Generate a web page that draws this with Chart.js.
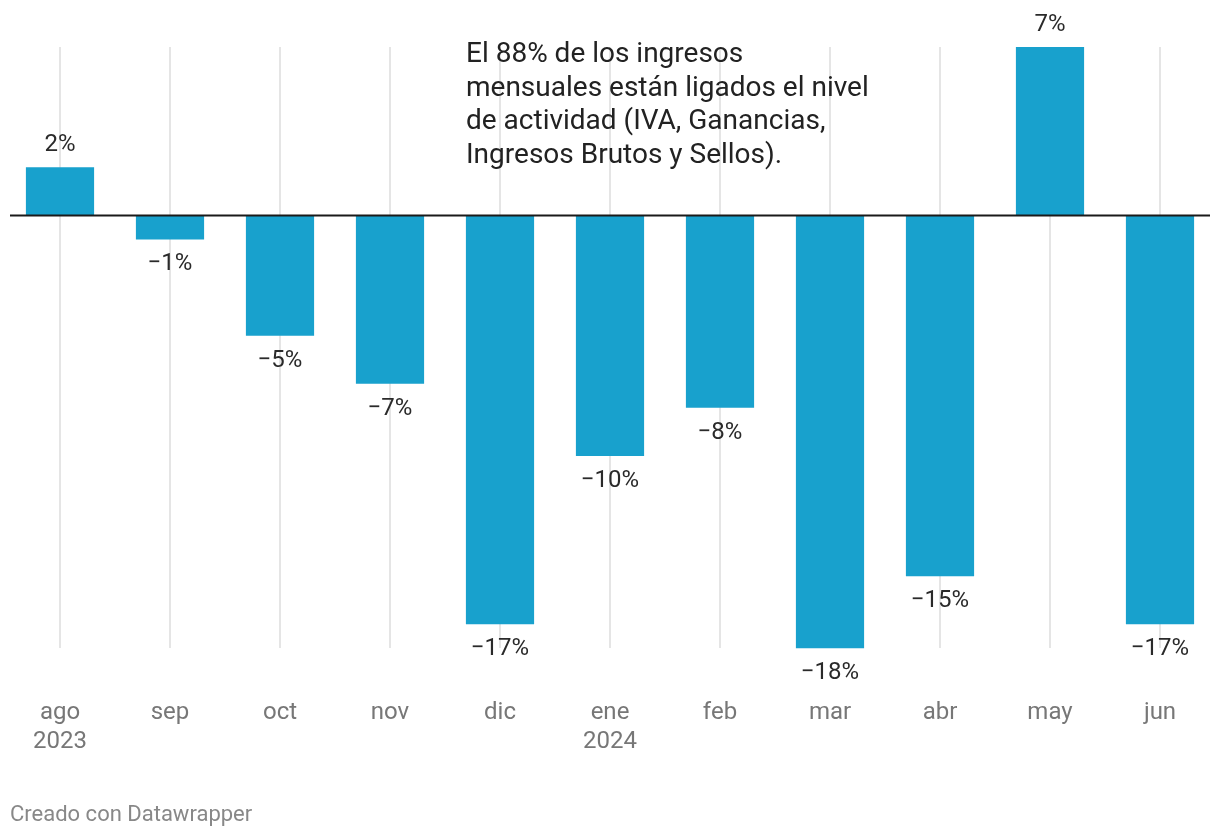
<!DOCTYPE html>
<html>
<head>
<meta charset="utf-8">
<script src="https://cdn.jsdelivr.net/npm/chart.js@4"></script>
<style>
html,body{margin:0;padding:0;background:#fff;}
#wrap{position:relative;width:1220px;height:838px;}
#footer{position:absolute;left:10px;top:801px;font:22px Roboto, sans-serif;color:#888;line-height:26px;}
</style>
</head>
<body>
<div id="wrap">
<canvas id="c" width="1220" height="838"></canvas>
<div id="footer">Creado con Datawrapper</div>
</div>
<script>
const months = ["ago","sep","oct","nov","dic","ene","feb","mar","abr","may","jun"];
const yearLabels = ["2023","","","","","2024","","","","",""];
const values = [2,-1,-5,-7,-17,-10,-8,-18,-15,7,-17];
const noteLines = ["El 88% de los ingresos","mensuales están ligados el nivel","de actividad (IVA, Ganancias,","Ingresos Brutos y Sellos)."];

const labels = months.map((m,i)=> yearLabels[i] ? [m, yearLabels[i]] : m);

const fmt = v => (v<0 ? "\u2212" + Math.abs(v) : String(v)) + "%";

const overlay = {
  id:'overlay',
  afterDatasetsDraw(chart){
    const ctx = chart.ctx;
    const y = chart.scales.y;
    const y0 = y.getPixelForValue(0);
    ctx.save();
    // zero line
    ctx.strokeStyle = '#1a1a1a';
    ctx.lineWidth = 2;
    ctx.beginPath();
    ctx.moveTo(10, y0);
    ctx.lineTo(1210, y0);
    ctx.stroke();
    // value labels
    ctx.font = '24px Roboto, sans-serif';
    ctx.fillStyle = '#2a2a2a';
    ctx.textAlign = 'center';
    ctx.textBaseline = 'middle';
    const meta = chart.getDatasetMeta(0);
    values.forEach((v,i)=>{
      const bar = meta.data[i];
      const py = y.getPixelForValue(v);
      ctx.fillText(fmt(v), bar.x, v >= 0 ? py - 22 : py + 25);
    });
    // annotation
    ctx.font = '28px Roboto, sans-serif';
    ctx.fillStyle = '#222';
    ctx.textAlign = 'left';
    noteLines.forEach((t,i)=>{
      ctx.fillText(t, 466, 55 + i*33.7);
    });
    ctx.restore();
  }
};

new Chart(document.getElementById('c'), {
  type:'bar',
  data:{
    labels: labels,
    datasets:[{
      data: values,
      backgroundColor:'#18a1cd',
      borderWidth:0,
      barPercentage:0.62,
      categoryPercentage:1.0
    }]
  },
  options:{
    responsive:false,
    animation:false,
    layout:{padding:{top:47,left:5,right:5,bottom:32}},
    plugins:{legend:{display:false},tooltip:{enabled:false}},
    scales:{
      x:{
        grid:{display:true,color:'#e5e5e5',lineWidth:2,drawTicks:false,offset:false},
        border:{display:false},
        ticks:{color:'#777',font:{family:'Roboto',size:24,lineHeight:1.2},padding:50,maxRotation:0,autoSkip:false},
        afterFit(scale){ scale.paddingLeft = 0; scale.paddingRight = 0; }
      },
      y:{
        display:false,
        min:-18,max:7
      }
    }
  },
  plugins:[overlay]
});
</script>
</body>
</html>
